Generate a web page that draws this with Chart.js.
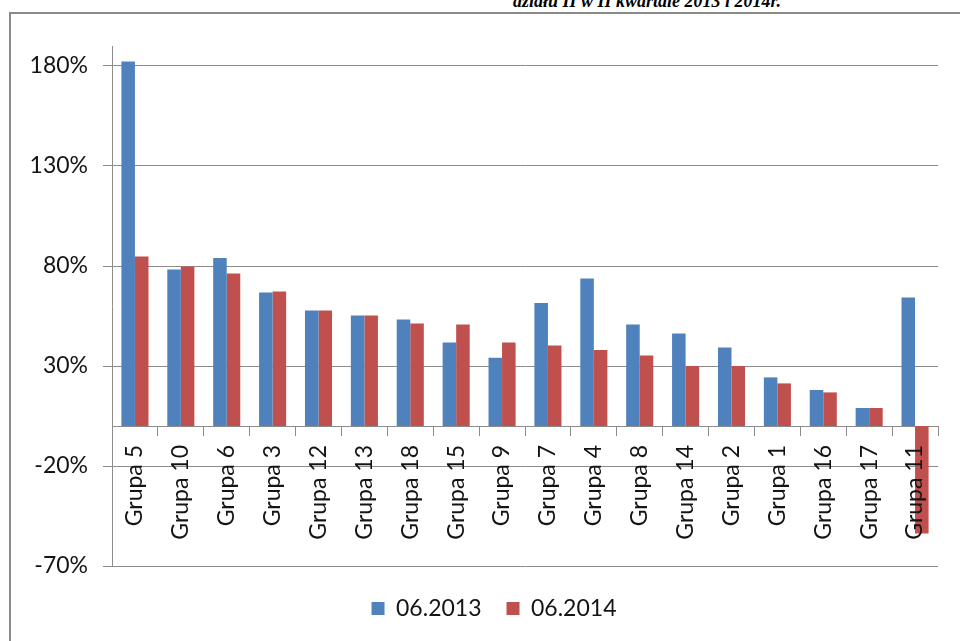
<!DOCTYPE html>
<html>
<head>
<meta charset="utf-8">
<script src="https://cdn.jsdelivr.net/npm/chart.js@4.4.1/dist/chart.umd.min.js"></script>
<style>
  html, body { margin: 0; padding: 0; background: #fff; width: 960px; height: 641px; overflow: hidden; position: relative; }
  #title { position: absolute; left: 513px; top: -8px; font: bold italic 18px/18px "Liberation Serif", "DejaVu Serif", serif; color: #000; white-space: nowrap; }
  #frame { position: absolute; left: 9px; top: 12px; width: 1000px; height: 700px; border-left: 2px solid #8a8a8a; border-top: 2px solid #8a8a8a; }
  #wrap { position: absolute; left: 0; top: 0; width: 960px; height: 641px; }
</style>
</head>
<body>
<div id="title">działu II w II kwartale 2013 i 2014r.</div>
<div id="frame"></div>
<div id="wrap"><canvas id="c" width="960" height="641"></canvas></div>
<script>
const categories = ['Grupa 5','Grupa 10','Grupa 6','Grupa 3','Grupa 12','Grupa 13','Grupa 18','Grupa 15','Grupa 9','Grupa 7','Grupa 4','Grupa 8','Grupa 14','Grupa 2','Grupa 1','Grupa 16','Grupa 17','Grupa 11'];
const series2013 = [182.3, 78.3, 84.0, 66.8, 57.8, 55.2, 53.3, 41.8, 34.1, 61.5, 73.7, 50.8, 46.3, 39.2, 24.3, 18.0, 9.0, 64.2];
const series2014 = [84.8, 79.7, 76.3, 67.3, 57.8, 55.2, 51.3, 50.7, 41.7, 40.3, 38.0, 35.3, 30.0, 30.0, 21.3, 16.8, 9.0, -53.8];
const seriesNames = ['06.2013', '06.2014'];
const yTickValues = [-70, -20, 30, 80, 130, 180];
const yMin = -70, yMax = 190;

const gridColor = '#8c8c8c';
const textColor = '#141414';
const font = { family: 'Lato', size: 23 };

// widen the y-axis label clip region after layout so labels are not cut
const unclipY = {
  id: 'unclipY',
  afterLayout(chart) { chart.scales.y.left = 0; }
};

new Chart(document.getElementById('c'), {
  type: 'bar',
  data: {
    labels: categories,
    datasets: [
      { label: seriesNames[0], data: series2013, backgroundColor: '#4F81BD', borderWidth: 0, categoryPercentage: 0.59, barPercentage: 1.0 },
      { label: seriesNames[1], data: series2014, backgroundColor: '#C0504D', borderWidth: 0, categoryPercentage: 0.59, barPercentage: 1.0 }
    ]
  },
  plugins: [unclipY],
  options: {
    responsive: false,
    animation: false,
    devicePixelRatio: 1,
    layout: { padding: { left: 50, right: 22, top: 46, bottom: 11 } },
    plugins: {
      tooltip: { enabled: false },
      legend: {
        position: 'bottom',
        title: { display: true, text: '', font: { size: 5 }, padding: 0 },
        labels: { boxWidth: 13, boxHeight: 13, font: font, color: textColor, padding: 25 }
      }
    },
    scales: {
      y: {
        min: yMin, max: yMax,
        afterBuildTicks: s => { s.ticks = yTickValues.map(v => ({ value: v })); },
        afterFit: s => { s.width = 62; },
        ticks: { callback: v => v + '%', font: font, color: textColor, padding: 15 },
        grid: { color: gridColor, lineWidth: 1, tickLength: 9, drawTicks: true },
        border: { display: true, color: gridColor, width: 1 }
      },
      x: {
        type: 'category',
        position: { y: 0 },
        offset: true,
        ticks: { z: 1, maxRotation: 90, minRotation: 90, autoSkip: false, font: font, color: textColor, padding: 10 },
        grid: { drawOnChartArea: false, drawTicks: true, tickLength: 9, color: gridColor, offset: true },
        border: { display: true, color: gridColor, width: 1 }
      }
    }
  }
});
</script>
</body>
</html>
